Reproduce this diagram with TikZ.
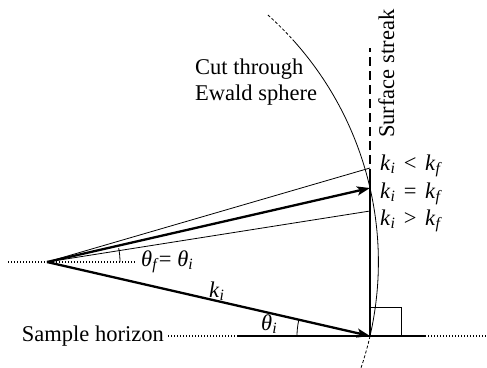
\documentclass[tikz,border=0pt]{standalone}
\usepackage{fontspec}
\setmainfont{Liberation Serif}
\usetikzlibrary{arrows.meta}
\newcommand{\vk}[1]{\textit{k}\textsubscript{\textit{#1}}}
\newcommand{\vth}[1]{\textit{θ}\textsubscript{\textit{#1}}}
\newcommand{\rel}[1]{\hspace{0.38em}#1\hspace{0.38em}}
\begin{document}
\begin{tikzpicture}[x=1bp,y=1bp,
  font=\fontsize{22.5bp}{26bp}\selectfont,
  thinline/.style={line width=0.8bp},
  thickline/.style={line width=2.3bp},
  dotline/.style={line width=1.3bp, dash pattern=on 1.3bp off 1.7bp},
  streakdash/.style={line width=2.5bp, dash pattern=on 9bp off 5bp},
  arcdash/.style={line width=0.8bp, dash pattern=on 3bp off 2bp},
  vec/.style={thickline, -{Stealth[length=13bp,width=9bp,inset=3bp]}},
  lbl/.style={inner sep=0pt, anchor=base west}]
\useasboundingbox (0,0) rectangle (487,367);
% points
\coordinate (O) at (47,105);
\coordinate (H) at (370,31);
\coordinate (F) at (370,179);
\coordinate (U) at (370,199);
\coordinate (L) at (370,156);
\coordinate (S) at (370,189);
\coordinate (T) at (370,319);
\coordinate (HL) at (237,31);
\coordinate (HR) at (425,31);
\coordinate (DL) at (168,31);
\coordinate (DR) at (487,31);
\coordinate (OL) at (8,105);
\coordinate (OR) at (135,105);
% dotted lines
\draw[dotline] (OL) -- (OR);
\draw[dotline] (DL) -- (HL);
\draw[dotline] (HR) -- (DR);
% horizon and streak
\draw[thickline] (HL) -- (HR);
\draw[thickline] (H) -- (S);
\draw[streakdash] (S) -- (T);
% Ewald circle
\draw[arcdash] (O) ++(48.2:331.4) arc[start angle=48.2, end angle=42.1, radius=331.4];
\draw[thinline] (O) ++(42.1:331.4) arc[start angle=42.1, end angle=-12.9, radius=331.4];
\draw[arcdash] (O) ++(-12.9:331.4) arc[start angle=-12.9, end angle=-18.6, radius=331.4];
% thin wave vectors
\draw[thinline] (O) -- (U);
\draw[thinline] (O) -- (L);
% right angle
\draw[thinline] (370,60) -| (401,31);
% angle marks
\draw[thinline] (O) ++(0:73) arc[start angle=0, end angle=11, radius=73];
\draw[thinline] (H) ++(180:73) arc[start angle=180, end angle=167.1, radius=73];
% main vectors
\draw[vec] (O) -- (F);
\draw[vec] (O) -- (H);
% labels
\node[lbl, anchor=base east] (sh) at (164,26) {Sample horizon};
\node[lbl] (c1) at (195,293) {Cut through};
\node[lbl] (c2) at (195,267) {Ewald sphere};
\node[lbl, rotate=90] (ss) at (394,229) {Surface streak};
\node[lbl] (l1) at (380,197) {\vk{i}\rel{<}\vk{f}};
\node[lbl] (l2) at (380,169) {\vk{i}\rel{=}\vk{f}};
\node[lbl] (l3) at (380,142) {\vk{i}\rel{>}\vk{f}};
\node[lbl] (tf) at (141,101) {\vth{f}= \vth{i}};
\node[lbl] (ki) at (209,70) {\vk{i}};
\node[lbl] (ti) at (261,37) {\vth{i}};
\end{tikzpicture}
\end{document}
